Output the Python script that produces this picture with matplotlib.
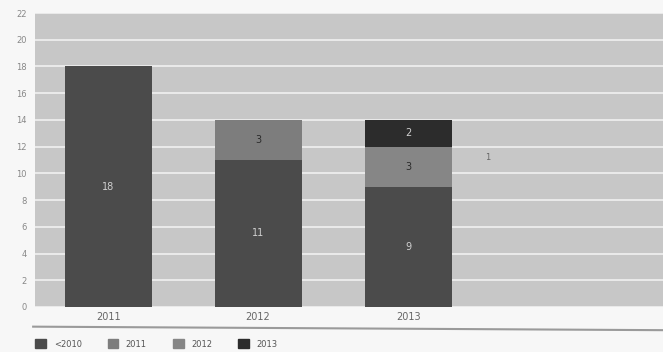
import numpy as np
import matplotlib.pyplot as plt
from matplotlib.patches import Patch
from matplotlib.lines import Line2D

# data
years = ['2011', '2012', '2013']
series = ['<2010', '2011', '2012', '2013']
s_2010 = [18, 11, 9]
s_2011 = [0, 3, 0]
s_2012 = [0, 0, 3]
s_2013 = [0, 0, 2]
yticks = [0, 2, 4, 6, 8, 10, 12, 14, 16, 18, 20, 22]

colors = ['#4b4b4b', '#7d7d7d', '#868686', '#2c2c2c']
label_colors = ['#d0d0d0', '#2a2a2a', '#2a2a2a', '#d0d0d0']

fig = plt.figure(figsize=(6.63, 3.52), dpi=100)
fig.patch.set_facecolor('#f7f7f7')
ax = fig.add_axes([0.053, 0.128, 0.947, 0.835])
ax.set_facecolor('#c7c7c7')

x = np.arange(len(years))
bottom = np.zeros(len(years))
for vals, col, lcol in zip([s_2010, s_2011, s_2012, s_2013], colors, label_colors):
    vals = np.array(vals, dtype=float)
    ax.bar(x, vals, 0.58, bottom=bottom, color=col, zorder=3)
    for xi, v, b in zip(x, vals, bottom):
        if v > 0:
            ax.text(xi, b + v / 2, str(int(v)), ha='center', va='center',
                    fontsize=7, color=lcol, zorder=4)
    bottom += vals

# stray mark in the scan
ax.text(2.53, 11.2, '1', fontsize=6, color='#666666', ha='center', va='center')

ax.set_xlim(-0.487, 3.7)
ax.set_ylim(0, 22)
ax.set_yticks(yticks)
ax.set_yticklabels([str(t) for t in yticks], fontsize=6, color='#888888')
ax.set_xticks(x)
ax.set_xticklabels(years, fontsize=7, color='#666666')
ax.tick_params(length=0, pad=6)
ax.tick_params(axis='x', pad=4)
ax.grid(axis='y', color='#f0f0f0', lw=1.2, zorder=1)
for s in ax.spines.values():
    s.set_visible(False)

# page edge shadow under the chart
fig.add_artist(Line2D([0.05, 1.0], [0.072, 0.062], transform=fig.transFigure,
                      color='#9a9a9a', lw=1.5))

handles = [Patch(color=c) for c in colors]
fig.legend(handles, series, loc='lower left', bbox_to_anchor=(0.042, -0.012),
           ncol=4, frameon=False, fontsize=6, handlelength=1.3, handleheight=1.3,
           columnspacing=3.1, handletextpad=0.9, labelcolor='#555555')

fig.savefig('out.png', dpi=100)
